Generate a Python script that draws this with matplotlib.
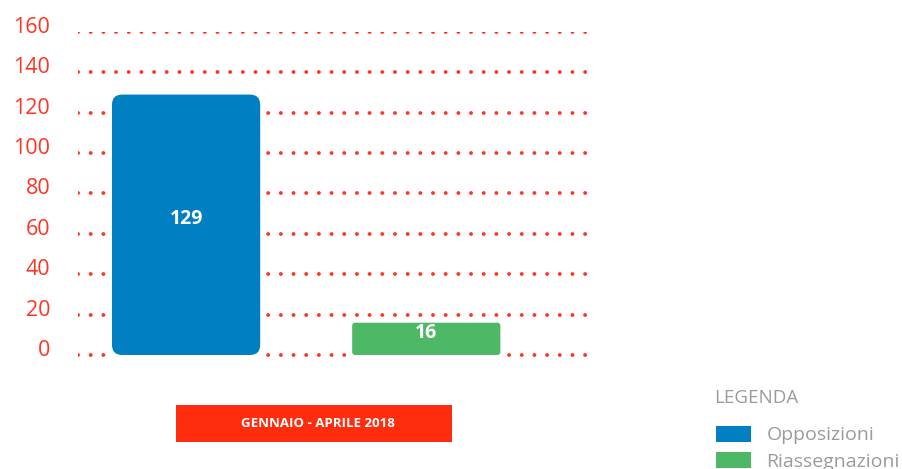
import matplotlib
matplotlib.use('Agg')
import matplotlib.pyplot as plt
import matplotlib.patches as mpatches
from matplotlib.transforms import ScaledTranslation

plt.rcParams['font.family'] = ['Open Sans', 'DejaVu Sans']

series = ['Opposizioni', 'Riassegnazioni']
values = [129, 16]
colors = ['#0080c2', '#4db865']
period = 'GENNAIO - APRILE 2018'
yticks = [0, 20, 40, 60, 80, 100, 120, 140, 160]

RED = '#ff3524'
GREY = '#9b9b9b'
W, H = 902, 469
fig = plt.figure(figsize=(W / 100, H / 100), dpi=100)

# axes placed in pixel terms: x 78..592, y gridline 0 at 355, 160 at 32
px_per_unit = (355 - 32) / 160
y_bottom = 355 + 1.5 * px_per_unit
ax = fig.add_axes([78 / W, 1 - y_bottom / H, (592 - 78) / W, (y_bottom - 32) / H])
ax.set_xlim(-0.45, 1.69)
ax.set_ylim(-1.5, 160)
for s in ax.spines.values():
    s.set_visible(False)
ax.set_xticks([])
ax.set_yticks(yticks)
ax.tick_params(axis='y', length=0, pad=20, labelsize=15.5, labelcolor=RED)
for lab in ax.get_yticklabels():
    lab.set_transform(lab.get_transform() + ScaledTranslation(0, 0.07, fig.dpi_scale_trans))

for t in yticks:
    ax.axhline(t, color=RED, lw=2.8, ls=(0, (0.01, 3.25)), dash_capstyle='round', zorder=1)

bars = ax.bar(range(len(values)), values, width=0.617, color=colors)
x_units_per_px = (1.69 + 0.45) / (592 - 78)
aspect = (1 / px_per_unit) / x_units_per_px
radii = [10, 3]
for rect, r, v in zip(bars.patches, radii, values):
    x, y, w, h = rect.get_x(), rect.get_y(), rect.get_width(), rect.get_height()
    rect.remove()
    pad_x = 6 * x_units_per_px
    # white mask so the dotted grid stops short of the bar
    ax.add_patch(mpatches.Rectangle((x - pad_x, y - 2), w + 2 * pad_x, h + 2 + 6 / px_per_unit,
                                    facecolor='white', edgecolor='none', zorder=2))
    ax.add_patch(mpatches.FancyBboxPatch((x, y), w, h,
                                         boxstyle='round,pad=0,rounding_size=%f' % (r * x_units_per_px),
                                         mutation_aspect=aspect, facecolor=rect.get_facecolor(),
                                         edgecolor='none', zorder=3))
    ax.text(x + w / 2, h / 2 + 3, str(v), color='white', fontsize=14, fontweight='bold',
            ha='center', va='center', zorder=4)

# category label box
fig.patches.append(mpatches.Rectangle((176 / W, 1 - 442 / H), 276 / W, 37 / H,
                                      transform=fig.transFigure, facecolor='#ff2d0d',
                                      edgecolor='none'))
fig.text(318 / W, 1 - 423.5 / H, period, color='white', fontsize=9.5, fontweight='bold',
         ha='center', va='center')

fig.text(714 / W, 1 - 398 / H, 'LEGENDA', color=GREY, fontsize=13.5, ha='left', va='center')
handles = [mpatches.Patch(facecolor=c, edgecolor='none', label=s) for c, s in zip(colors, series)]
leg = fig.legend(handles=handles, loc='upper left',
                 bbox_to_anchor=(716 / W, 1 - 426 / H), frameon=False, fontsize=14,
                 handlelength=1.8, handleheight=0.85,
                 handletextpad=0.8, labelspacing=0.4, borderaxespad=0, borderpad=0)
for t in leg.get_texts():
    t.set_color(GREY)

fig.savefig('out.png', dpi=100, facecolor='white')
